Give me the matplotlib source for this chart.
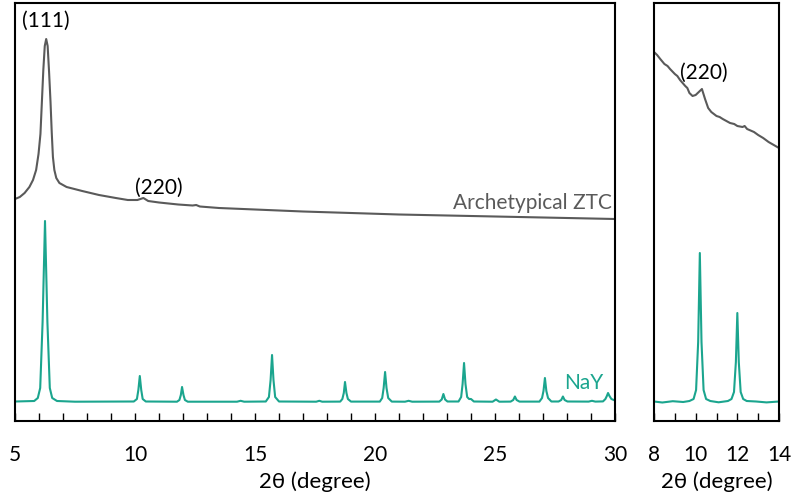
import matplotlib
matplotlib.use("Agg")
import matplotlib.pyplot as plt
from matplotlib.ticker import MultipleLocator

plt.rcParams['font.family'] = ['Lato', 'DejaVu Sans']

gray = "#5a5a5a"
teal = "#1ba58e"

# intensity in arbitrary units
# --------------------
# Archetypical ZTC, wide scan
# --------------------
ztc_x = [5.00, 5.20, 5.40, 5.60, 5.75, 5.88, 5.98, 6.06, 6.12, 6.18, 6.24, 6.30,
         6.36, 6.42, 6.48, 6.53, 6.58, 6.64, 6.72, 6.85, 7.15, 7.80, 8.50, 9.20,
         9.70, 10.10, 10.35, 10.55, 11.00, 11.80, 12.40, 12.55, 12.70, 13.50,
         14.50, 15.50, 17.00, 19.00, 21.00, 23.00, 25.00, 27.00, 29.00, 30.00]
ztc_y = [203, 205, 209, 215, 222, 232, 248, 268, 300, 332, 356, 363,
         356, 330, 300, 270, 245, 232, 224, 219, 215, 211, 207, 204,
         202, 202, 204, 201, 199.5, 197.5, 196.5, 197, 195.5, 194,
         193, 192, 190.5, 189, 187.5, 186.5, 185.5, 184.5, 183.5, 183]

# --------------------
# NaY, wide scan
# --------------------
nay_x = [5.00, 5.80, 5.95, 6.05, 6.15, 6.25, 6.35, 6.45, 6.55, 6.75, 7.50,
         9.95, 10.08, 10.14, 10.20, 10.26, 10.32, 10.45,
         11.75, 11.85, 11.91, 11.96, 12.02, 12.08, 12.20,
         14.25, 14.40, 14.55,
         15.45, 15.58, 15.65, 15.71, 15.77, 15.84, 16.00,
         17.55, 17.68, 17.80,
         18.55, 18.64, 18.70, 18.75, 18.81, 18.87, 19.00,
         20.20, 20.30, 20.36, 20.42, 20.48, 20.55, 20.70,
         21.25, 21.40, 21.55,
         22.68, 22.78, 22.85, 22.92, 23.02,
         23.48, 23.59, 23.65, 23.71, 23.77, 23.84, 23.92, 24.00, 24.12,
         24.90, 25.04, 25.18,
         25.65, 25.76, 25.83, 25.90, 26.02,
         26.85, 26.96, 27.02, 27.08, 27.14, 27.21, 27.35,
         27.65, 27.76, 27.83, 27.90, 28.02,
         28.90, 29.04, 29.18,
         29.50, 29.60, 29.66, 29.71, 29.77, 29.85, 30.00]
nay_y = [0.5, 1, 4, 14, 80, 181, 80, 14, 4, 1, 0.3,
         0.5, 3, 12, 26, 12, 3, 0.5,
         0.3, 2, 7, 15, 7, 2, 0.3,
         0.3, 1.2, 0.3,
         0.5, 5, 22, 47, 22, 5, 0.5,
         0.3, 1.2, 0.3,
         0.4, 3, 9, 20, 9, 3, 0.4,
         0.4, 4, 14, 30, 14, 4, 0.4,
         0.3, 1.2, 0.3,
         0.4, 2.5, 8, 2.5, 0.5,
         0.5, 5, 18, 39, 18, 5, 3, 3, 0.5,
         0.3, 2.5, 0.3,
         0.4, 2, 5.5, 2, 0.4,
         0.4, 4, 11, 24, 11, 4, 0.5,
         0.5, 2, 5.5, 2, 0.5,
         0.4, 1.2, 0.4,
         0.6, 3, 6, 9, 6, 3, 1.5]

# --------------------
# narrow scans, 8-14 degree
# --------------------
ztc2_x = [8.00, 8.15, 8.30, 8.50, 8.65, 8.77, 9.00, 9.12, 9.25, 9.50, 9.60,
          9.70, 9.85, 10.00, 10.15, 10.30, 10.45, 10.60, 10.75, 11.00, 11.15,
          11.30, 11.65, 11.85, 12.00, 12.25, 12.35, 12.47, 12.80, 13.00, 13.24,
          13.50, 13.75, 14.00]
ztc2_y = [350, 347, 343, 338, 336, 333, 328, 326, 322, 316, 314,
          309, 306, 307, 310, 313, 303, 294, 290, 286, 285,
          283, 279, 278, 276, 275, 276, 273, 270, 267, 264,
          260, 257, 254]

nay2_x = [8.00, 8.40, 8.90, 9.40, 9.70, 9.90, 10.02, 10.12, 10.20, 10.28, 10.38,
          10.50, 10.70, 11.10, 11.55, 11.72, 11.84, 11.93, 12.00, 12.07, 12.16,
          12.28, 12.45, 12.90, 13.40, 14.00]
nay2_y = [0.5, -0.5, 0.8, 0, 1, 3, 12, 60, 149, 60, 12,
          3, 1, -0.3, 1, 3, 10, 40, 89, 40, 10,
          3, 1, 0.5, -0.4, 0.5]

fig = plt.figure(figsize=(7.91, 4.97), dpi=100)
ax1 = fig.add_axes([15 / 791, 1 - 421 / 497, 600 / 791, 418 / 497])
ax2 = fig.add_axes([654 / 791, 1 - 421 / 497, 125 / 791, 418 / 497])

ax1.plot(ztc_x, ztc_y, color=gray, lw=1.5)
ax1.plot(nay_x, nay_y, color=teal, lw=1.5)
ax2.plot(ztc2_x, ztc2_y, color=gray, lw=1.5)
ax2.plot(nay2_x, nay2_y, color=teal, lw=1.5)

ax1.set_xlim(5, 30)
ax2.set_xlim(8, 14)
for ax in (ax1, ax2):
    ax.set_ylim(-19, 399)
    ax.set_yticks([])
    ax.xaxis.set_minor_locator(MultipleLocator(1))
    ax.tick_params(axis="x", which="both", direction="in", length=6, width=1,
                   labelsize=15, pad=17)
    for s in ax.spines.values():
        s.set_linewidth(1.5)
    ax.set_xlabel("2θ (degree)", fontsize=16, labelpad=5)
ax1.xaxis.set_major_locator(MultipleLocator(5))
ax2.xaxis.set_major_locator(MultipleLocator(2))

ax1.text(6.3, 381, "(111)", ha="center", va="center", fontsize=15)
ax1.text(11.0, 214, "(220)", ha="center", va="center", fontsize=15)
ax1.text(29.85, 199, "Archetypical ZTC", ha="right", va="center",
         fontsize=15, color=gray)
ax1.text(29.5, 19, "NaY", ha="right", va="center", fontsize=15, color=teal)
ax2.text(10.4, 329, "(220)", ha="center", va="center", fontsize=15)

fig.savefig("out.png", dpi=100)
